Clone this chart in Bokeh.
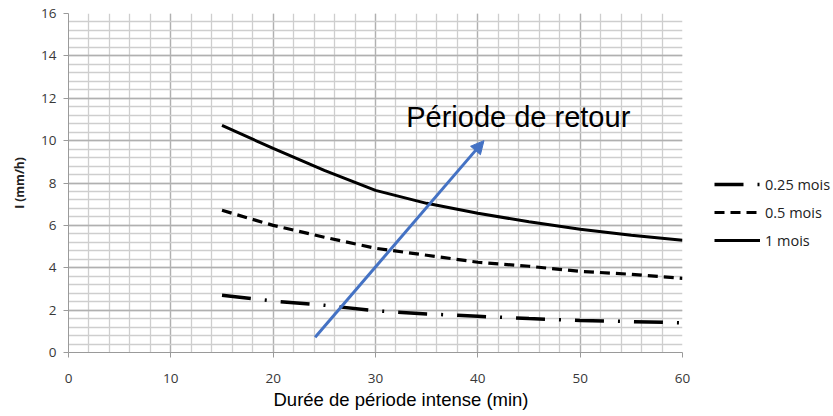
from bokeh.plotting import figure
from bokeh.models import (Legend, LegendItem, SingleIntervalTicker, Range1d,
                          Arrow, NormalHead, Title)
from bokeh.core.properties import value
from bokeh.embed import file_html
from bokeh.resources import INLINE

# ---- data ----
durations = [15, 20, 25, 30, 35, 40, 45, 50, 55, 60]
i_025 = [2.70, 2.43, 2.23, 1.97, 1.82, 1.71, 1.60, 1.51, 1.46, 1.40]
i_05 = [6.71, 6.00, 5.44, 4.92, 4.59, 4.26, 4.07, 3.83, 3.69, 3.50]
i_1 = [10.72, 9.63, 8.60, 7.65, 7.04, 6.57, 6.17, 5.82, 5.53, 5.30]
series_labels = ["0.25 mois", "0.5 mois", "1 mois"]
arrow_start = [24.1, 0.72]
arrow_end = [40.6, 10.0]
annotation_text = "Période de retour"
annotation_pos = [33.0, 11.1]
x_title = "Durée de période intense (min)"
y_title = "I (mm/h)"

p = figure(frame_width=614, frame_height=339, output_backend="svg",
           toolbar_location=None,
           x_range=Range1d(0, 60), y_range=Range1d(0, 16),
           min_border_left=68, min_border_right=150, min_border_top=13,
           min_border_bottom=63)
p.outline_line_color = None
p.background_fill_color = "white"

# ticks / grid
for ax, interval in ((p.xaxis[0], 10), (p.yaxis[0], 2)):
    ax.ticker = SingleIntervalTicker(interval=interval, num_minor_ticks=5)
    ax.axis_line_color = "#9a9a9a"
    ax.major_tick_line_color = "#9a9a9a"
    ax.major_tick_out = 5
    ax.major_tick_in = 0
    ax.minor_tick_line_color = None
    ax.major_label_text_font = "Open Sans"
    ax.major_label_text_font_size = "13.5px"
    ax.major_label_text_color = "#383838"

p.xaxis.major_label_standoff = 16
p.yaxis.major_label_standoff = 7

p.yaxis.axis_label = y_title
p.yaxis.axis_label_text_font = "Open Sans"
p.yaxis.axis_label_text_font_style = "bold"
p.yaxis.axis_label_text_font_size = "12px"
p.yaxis.axis_label_text_color = "#222222"
p.yaxis.axis_label_standoff = 10

for g in (p.xgrid[0], p.ygrid[0]):
    g.grid_line_color = "#b0b0b0"
    g.grid_line_width = 1.3
    g.minor_grid_line_color = "#cecece"
    g.minor_grid_line_width = 1.3

# series
r1 = p.line(durations, i_025, line_color="black", line_width=3.5,
            line_dash="29 14 2 14")
r2 = p.line(durations, i_05, line_color="black", line_width=3.2,
            line_dash="10 6")
r3 = p.line(durations, i_1, line_color="black", line_width=3)

# annotation arrow & text
p.add_layout(Arrow(end=NormalHead(size=13, fill_color="#4472C4",
                                  line_color="#4472C4"),
                   x_start=arrow_start[0], y_start=arrow_start[1],
                   x_end=arrow_end[0], y_end=arrow_end[1],
                   line_color="#4472C4", line_width=3))
p.text(x=[annotation_pos[0]], y=[annotation_pos[1]], text=[annotation_text],
       text_font=value("Liberation Sans"), text_font_size="29px",
       text_baseline="alphabetic", text_align="left", text_color="black")

# legend
legend = Legend(items=[LegendItem(label=series_labels[0], renderers=[r1]),
                       LegendItem(label=series_labels[1], renderers=[r2]),
                       LegendItem(label=series_labels[2], renderers=[r3])],
                location=(32, 102), padding=0, margin=0, spacing=8,
                glyph_width=46, glyph_height=20, label_standoff=5,
                label_text_font="Open Sans", label_text_font_size="14.5px",
                label_text_color="#222222",
                border_line_color=None, background_fill_alpha=0)
p.add_layout(legend, "right")

p.add_layout(Title(text=x_title, align="left", offset=205,
                   text_font="Liberation Sans", text_font_size="18.5px",
                   text_font_style="normal", text_color="black",
                   standoff=3), "below")

open("out.html", "w").write(file_html(p, INLINE))
